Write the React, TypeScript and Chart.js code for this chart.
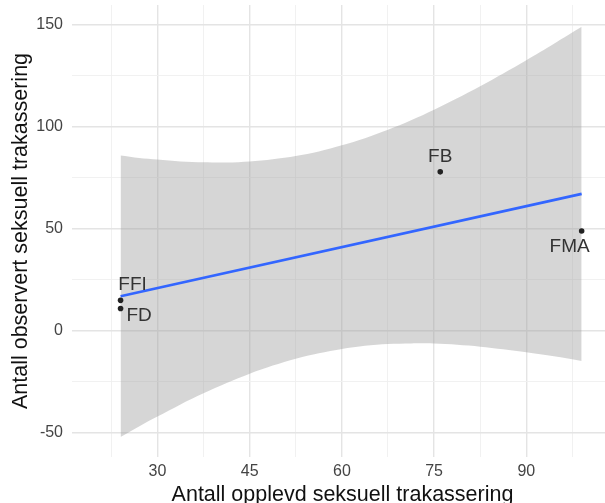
import { useEffect, useRef } from "react";
import { Chart, registerables } from "chart.js";
Chart.register(...registerables);

// ---- data ----
const pointLabels = ["FFI", "FD", "FB", "FMA"];
const opplevd = [24, 24, 76, 99];
const observert = [15, 11, 78, 49];

const fitX = [24, 99];
const fitY = [17.0, 67.2];

const bandX = [24, 27, 30, 33.75, 37.5, 41.25, 45, 48.75, 52.5, 56.25, 60, 63.75, 67.5, 71.25, 75, 78.75, 82.5, 86.25, 90, 94.5, 99];
const bandUpper = [86.0, 84.8, 84.0, 83.1, 82.7, 82.6, 83.1, 84.2, 85.8, 88.0, 91.0, 94.5, 98.6, 103.3, 108.5, 114.1, 120.0, 126.2, 132.7, 140.8, 149.1];
const bandLower = [-52.0, -46.8, -42.0, -36.0, -30.6, -25.5, -21.0, -17.0, -13.6, -10.9, -8.8, -7.3, -6.4, -6.1, -6.2, -6.8, -7.7, -9.0, -10.4, -12.4, -14.7];

const xTicks = [22.5, 30, 37.5, 45, 52.5, 60, 67.5, 75, 82.5, 90, 97.5];
const xTickLabels = ["", "30", "", "45", "", "60", "", "75", "", "90", ""];
const yTicks = [-50, -25, 0, 25, 50, 75, 100, 125, 150];
const yTickLabels = ["-50", "", "0", "", "50", "", "100", "", "150"];

const xTitle = "Antall opplevd seksuell trakassering";
const yTitle = "Antall observert seksuell trakassering";

// ---- style ----
const FONT = "'Liberation Sans', Arial, sans-serif";
const labelOffsets: [number, number][] = [[12, -10], [18.5, 12], [0, -10], [-12, 21]];

const pointLabelPlugin = {
  id: "pointLabels",
  afterDatasetsDraw(chart: any) {
    const meta = chart.getDatasetMeta(0);
    const ctx = chart.ctx;
    ctx.save();
    ctx.font = `19px ${FONT}`;
    ctx.fillStyle = "#333333";
    ctx.textAlign = "center";
    ctx.textBaseline = "alphabetic";
    meta.data.forEach((el: any, i: number) => {
      const [dx, dy] = labelOffsets[i];
      ctx.fillText(pointLabels[i], el.x + dx, el.y + dy);
    });
    ctx.restore();
  },
};

export default function App() {
  const ref = useRef<HTMLCanvasElement>(null);
  useEffect(() => {
    document.body.style.margin = "0";
    document.body.style.overflow = "hidden";
    const chart = new Chart(ref.current!, {
      type: "scatter",
      data: {
        datasets: [
          {
            label: "points",
            data: opplevd.map((x, i) => ({ x, y: observert[i] })),
            backgroundColor: "#222222",
            borderWidth: 0,
            pointRadius: 2.8,
            order: 0,
          },
          {
            label: "fit",
            data: fitX.map((x, i) => ({ x, y: fitY[i] })),
            showLine: true,
            borderColor: "#3366FF",
            borderWidth: 2.6,
            pointRadius: 0,
            fill: false,
            order: 1,
          },
          {
            label: "upper",
            data: bandX.map((x, i) => ({ x, y: bandUpper[i] })),
            showLine: true,
            borderWidth: 0,
            borderColor: "rgba(0,0,0,0)",
            pointRadius: 0,
            tension: 0.3,
            fill: false,
            order: 2,
          },
          {
            label: "lower",
            data: bandX.map((x, i) => ({ x, y: bandLower[i] })),
            showLine: true,
            borderWidth: 0,
            borderColor: "rgba(0,0,0,0)",
            backgroundColor: "rgba(153,153,153,0.4)",
            pointRadius: 0,
            tension: 0.3,
            fill: "-1",
            order: 2,
          },
        ],
      },
      options: {
        animation: false,
        responsive: false,
        events: [],
        layout: { autoPadding: false, padding: { left: 0, right: 0, top: 5, bottom: 0 } },
        plugins: { legend: { display: false }, tooltip: { enabled: false } },
        scales: {
          x: {
            type: "linear",
            min: 16.1,
            max: 104.1,
            border: { display: false },
            grid: {
              drawTicks: false,
              color: (c: any) => (c.tick && xTicks.indexOf(c.tick.value) % 2 === 1 ? "#e4e4e4" : "#efefef"),
              lineWidth: (c: any) => (c.tick && xTicks.indexOf(c.tick.value) % 2 === 1 ? 1.4 : 0.9),
            },
            afterBuildTicks: (scale: any) => {
              scale.ticks = xTicks.map((v) => ({ value: v }));
            },
            afterFit: (scale: any) => {
              scale.height = 46;
              scale.paddingLeft = 0;
              scale.paddingRight = 0;
            },
            ticks: {
              autoSkip: false,
              maxRotation: 0,
              padding: 5,
              color: "#444444",
              font: { family: FONT, size: 16 },
              callback: (v: any) => {
                const i = xTicks.indexOf(Number(v));
                return i >= 0 ? xTickLabels[i] : "";
              },
            },
            title: {
              display: true,
              text: xTitle,
              color: "#111111",
              font: { family: FONT, size: 21.5 },
              padding: { top: 0, bottom: -4.5 },
            },
          },
          y: {
            type: "linear",
            min: -61.8,
            max: 159.8,
            border: { display: false },
            grid: {
              drawTicks: false,
              color: (c: any) => (c.tick && yTicks.indexOf(c.tick.value) % 2 === 0 ? "#e4e4e4" : "#efefef"),
              lineWidth: (c: any) => (c.tick && yTicks.indexOf(c.tick.value) % 2 === 0 ? 1.4 : 0.9),
            },
            afterBuildTicks: (scale: any) => {
              scale.ticks = yTicks.map((v) => ({ value: v }));
            },
            afterFit: (scale: any) => {
              scale.width = 72;
              scale.paddingTop = 0;
              scale.paddingBottom = 0;
            },
            ticks: {
              autoSkip: false,
              padding: 9,
              color: "#444444",
              font: { family: FONT, size: 16 },
              callback: (v: any) => {
                const i = yTicks.indexOf(Number(v));
                return i >= 0 ? yTickLabels[i] : "";
              },
            },
            title: {
              display: true,
              text: yTitle,
              color: "#111111",
              font: { family: FONT, size: 21.5 },
              padding: { top: 8, bottom: 0 },
            },
          },
        },
      },
      plugins: [pointLabelPlugin],
    } as any);
    return () => chart.destroy();
  }, []);
  return (
    <div style={{ position: "absolute", left: 0, top: 0, width: 605, height: 503, overflow: "hidden", background: "#ffffff" }}>
      <canvas ref={ref} width={613} height={503} style={{ display: "block" }} />
    </div>
  );
}
